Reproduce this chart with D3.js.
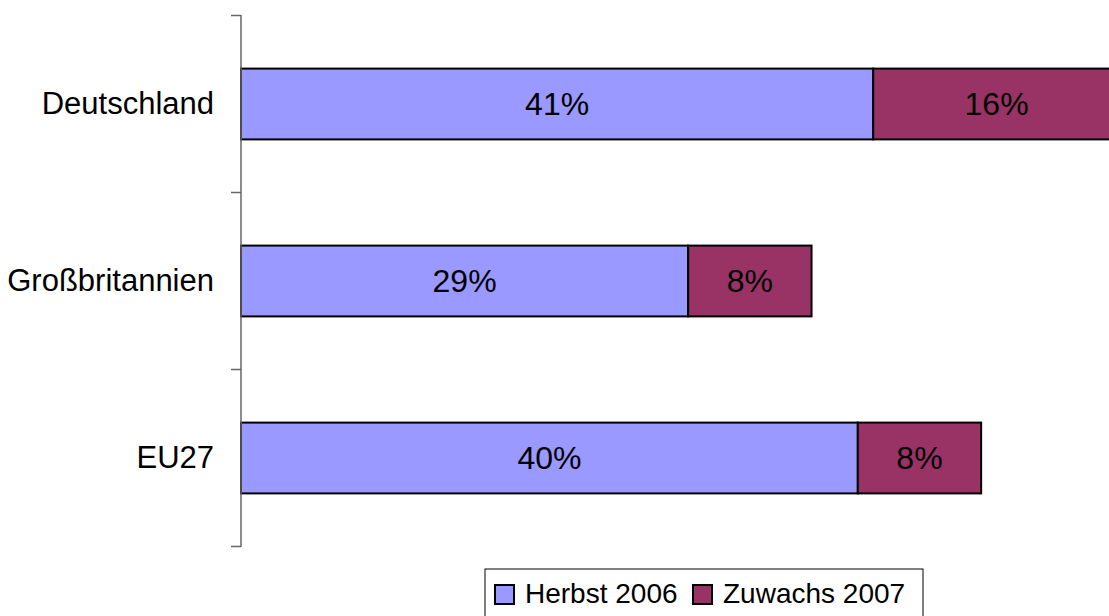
<!DOCTYPE html>
<html><head><meta charset="utf-8">
<script src="https://cdn.jsdelivr.net/npm/d3@7"></script>
<style>body{margin:0;background:#fff}svg{display:block}text{font-family:"Liberation Sans",Arial,sans-serif;fill:#000}</style>
</head><body>
<script>
const categories = ["Deutschland", "Großbritannien", "EU27"];
const herbst2006 = [41, 29, 40];
const zuwachs2007 = [16, 8, 8];
const seriesNames = ["Herbst 2006", "Zuwachs 2007"];
const seriesColors = ["#9999FF", "#993366"];

const W = 1109, H = 616;
const svg = d3.select("body").append("svg").attr("width", W).attr("height", H);

const x = d3.scaleLinear().domain([0, 60]).range([241, 241 + 60 * 15.42]);
const y = d3.scaleBand().domain(categories).range([15.5, 546.5]).paddingInner(0.6).paddingOuter(0.3);

// bars
categories.forEach((c, i) => {
  const vals = [herbst2006[i], zuwachs2007[i]];
  let acc = 0;
  vals.forEach((v, j) => {
    const x0 = x(acc), x1 = x(acc + v);
    svg.append("rect").attr("x", x0).attr("y", y(c)).attr("width", x1 - x0).attr("height", y.bandwidth())
      .attr("fill", seriesColors[j]).attr("stroke", "#000").attr("stroke-width", 2);
    svg.append("text").attr("x", (x0 + x1) / 2).attr("y", y(c) + y.bandwidth() / 2 + 11)
      .attr("text-anchor", "middle")
      .style("font-size", "32px").text(v + "%");
    acc += v;
  });
});

// axis
const step = (546.5 - 15.5) / 3;
const bounds = d3.range(4).map(k => 15.5 + k * step);
svg.append("line").attr("x1", 241).attr("x2", 241).attr("y1", 15).attr("y2", 547).attr("stroke", "#666").attr("stroke-width", 1.5);
bounds.forEach(b => svg.append("line").attr("x1", 231).attr("x2", 241).attr("y1", b).attr("y2", b).attr("stroke", "#666").attr("stroke-width", 1.5));
categories.forEach(c => svg.append("text").attr("x", 214).attr("y", y(c) + y.bandwidth() / 2 + 10)
  .attr("text-anchor", "end")
  .style("font-size", "31px").text(c));

// legend
const lg = svg.append("g");
lg.append("rect").attr("x", 485).attr("y", 569).attr("width", 438).attr("height", 60).attr("fill", "#fff").attr("stroke", "#000").attr("stroke-width", 1);
const legX = [495, 693];
seriesNames.forEach((n, i) => {
  lg.append("rect").attr("x", legX[i]).attr("y", 585).attr("width", 19).attr("height", 19)
    .attr("fill", seriesColors[i]).attr("stroke", "#000").attr("stroke-width", 2);
  lg.append("text").attr("x", legX[i] + 30).attr("y", 603)
    .style("font-size", "28px").text(n);
});
</script>
</body></html>
